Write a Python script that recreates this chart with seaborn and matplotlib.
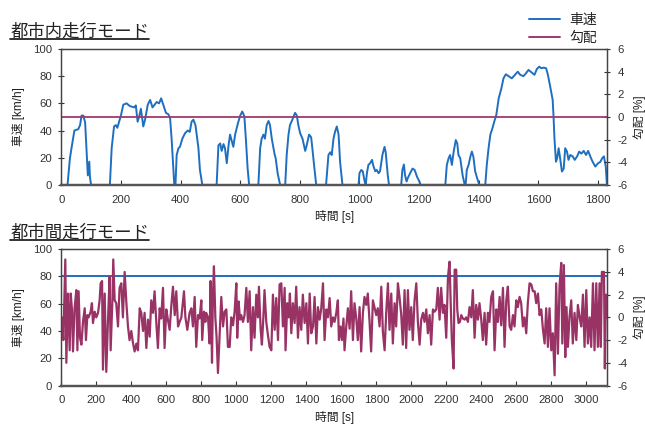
import matplotlib
matplotlib.use('Agg')
import matplotlib.pyplot as plt
from matplotlib.lines import Line2D
import numpy as np
import pandas as pd
import seaborn as sns

# urban mode: vehicle speed [km/h] vs time [s], grade flat at 0 %
urban_t = [0, 21, 29, 35, 44, 57, 63, 68, 74, 80, 85, 89, 94, 96, 100, 163, 169, 177, 183, 188,
           200, 208, 219, 230, 245, 250, 256, 261, 267, 275, 281, 290, 298, 306, 313, 320, 328, 335,
           342, 351, 359, 365, 370, 376, 379, 383, 387, 393, 398, 406, 415, 424, 431, 437, 443, 450,
           460, 465, 473, 521, 527, 533, 538, 544, 549, 555, 561, 566, 572, 577, 583, 592, 600, 607,
           614, 619, 625, 630, 661, 667, 672, 678, 683, 689, 695, 700, 706, 715, 719, 726, 734, 751,
           756, 762, 767, 775, 784, 790, 795, 801, 809, 818, 823, 831, 838, 842, 849, 855, 888, 896,
           902, 907, 913, 918, 924, 930, 935, 943, 997, 1000, 1006, 1011, 1017, 1021, 1025, 1030,
           1036, 1042, 1047, 1053, 1058, 1064, 1069, 1077, 1084, 1088, 1095, 1099, 1140, 1144, 1149,
           1153, 1158, 1162, 1170, 1178, 1185, 1193, 1201, 1205, 1288, 1293, 1299, 1304, 1310, 1316,
           1323, 1328, 1332, 1338, 1346, 1353, 1356, 1360, 1366, 1372, 1377, 1382, 1388, 1396, 1402,
           1422, 1427, 1433, 1439, 1446, 1452, 1459, 1467, 1476, 1483, 1491, 1500, 1511, 1520, 1531,
           1539, 1550, 1558, 1567, 1576, 1587, 1595, 1603, 1610, 1618, 1626, 1632, 1640, 1648, 1651,
           1654, 1659, 1663, 1668, 1673, 1679, 1685, 1690, 1696, 1701, 1707, 1715, 1722, 1730, 1737,
           1744, 1752, 1760, 1767, 1774, 1782, 1791, 1800, 1808, 1814, 1820, 1826, 1830]
urban_speed = [0, 0, 19.6, 28, 40, 41, 44, 51, 51, 46, 24.5, 7, 17, 6, 0, 0, 27, 43, 44, 42,
               51, 59, 60, 58, 57, 58.5, 46.5, 50, 56, 43, 48, 59, 62.5, 57, 59, 61, 60, 63.7,
               59, 53, 52, 49, 34, 12, 0, 0, 22, 27, 28, 34, 38, 40, 39, 46.5, 48, 44,
               27, 11, 0, 0, 29, 30.5, 25, 30, 27, 16, 29, 37, 32, 28, 37, 45, 51, 54,
               50.5, 34, 12, 0, 0, 27, 34, 37, 34, 44, 47, 44, 34, 23, 19.6, 8, 0, 0,
               22, 37, 44, 48, 53, 51, 44, 38, 34, 25, 29, 37, 35, 27, 12, 0, 0, 22,
               24, 22, 34, 39, 43, 37, 17, 0, 0, 8.6, 11, 10, 3, 0, 8.6, 14.7,
               16, 18.4, 13.7, 10, 11, 8.6, 10, 22, 28, 24, 7, 0, 0, 11, 15,
               7, 2.5, 5, 8.6, 12, 11, 6, 2.5, 0, 0, 14.7, 19.6, 22, 14.7, 24.5,
               33, 30.5, 22, 19.6, 7, 0, 0, 11, 14.7, 20.8, 24.5, 20.8, 10, 4, 0,
               0, 14.7, 27, 37, 41.7, 46.5, 51.5, 63.7, 71, 78.4, 81.4, 80, 78.4, 80.6, 83.3,
               81, 80, 82, 84.6, 83, 81, 85.3, 87, 85.8, 86.3, 85.8, 81, 72, 62.5, 50,
               34, 17, 19.6, 27, 19.6, 9.8, 12, 27, 24.5, 18.4, 22, 21, 18.4, 21, 24.5,
               23, 25, 22, 25, 21, 17, 13.5, 15.9, 17, 19.6, 21, 13.5, 0]
urban_grade_t = [0, 1830]
urban_grade = [0, 0]

# interurban mode: constant 80 km/h, grade [%] varies
inter_speed_t = [0, 3117]
inter_speed = [80, 80]
inter_t = [0, 4, 12, 23, 29, 38, 48, 54, 61, 67, 76, 86, 92, 99, 107, 115, 124, 134, 141, 149,
           156, 168, 175, 181, 191, 200, 210, 219, 225, 233, 238, 248, 257, 267, 276, 282, 292,
           297, 305, 314, 324, 333, 343, 352, 362, 372, 381, 390, 400, 410, 419, 429, 438, 448,
           457, 467, 476, 486, 495, 505, 514, 524, 533, 543, 552, 562, 571, 581, 590, 600, 609,
           619, 629, 638, 648, 657, 667, 676, 686, 701, 709, 720, 733, 743, 752, 762, 771,
           781, 790, 800, 805, 815, 823, 828, 838, 847, 853, 861, 866, 872, 880, 887, 895, 904,
           914, 924, 933, 943, 952, 962, 971, 981, 990, 1000, 1005, 1013, 1021, 1028, 1038, 1047,
           1057, 1066, 1076, 1085, 1095, 1104, 1114, 1123, 1129, 1139, 1146, 1154, 1161, 1171,
           1180, 1190, 1200, 1209, 1219, 1228, 1238, 1247, 1257, 1266, 1276, 1281, 1291, 1299,
           1306, 1314, 1323, 1333, 1342, 1352, 1361, 1371, 1380, 1390, 1400, 1409, 1419, 1428,
           1438, 1447, 1457, 1466, 1476, 1485, 1495, 1504, 1514, 1523, 1533, 1542, 1552, 1561, 1571,
           1580, 1586, 1595, 1603, 1612, 1618, 1628, 1637, 1647, 1656, 1666, 1675, 1685, 1694,
           1704, 1713, 1723, 1732, 1742, 1751, 1761, 1770, 1780, 1789, 1799, 1808, 1818, 1828,
           1837, 1847, 1856, 1866, 1875, 1885, 1894, 1904, 1913, 1923, 1932, 1942, 1951, 1961,
           1970, 1980, 1989, 1999, 2008, 2018, 2028, 2037, 2047, 2056, 2066, 2075, 2085, 2094,
           2104, 2113, 2123, 2132, 2142, 2151, 2161, 2170, 2180, 2189, 2199, 2209, 2218, 2224,
           2231, 2241, 2247, 2256, 2262, 2269, 2277, 2285, 2294, 2304, 2313, 2323, 2332, 2342,
           2351, 2361, 2370,
           2380, 2389, 2399, 2408, 2418, 2427, 2437, 2446, 2456, 2466, 2475, 2485, 2494, 2504,
           2513, 2523, 2532, 2542, 2551, 2561, 2570, 2580, 2589, 2599, 2608, 2618, 2627, 2637,
           2646, 2656, 2665, 2675, 2685, 2694, 2704, 2713, 2723, 2732, 2742, 2751, 2761, 2770,
           2780, 2789, 2799, 2808, 2818, 2827, 2837, 2846, 2856, 2862, 2871, 2879, 2886, 2894,
           2903, 2913, 2922, 2932, 2942, 2951, 2961, 2970, 2980, 2989, 2999, 3008, 3018, 3027,
           3037, 3046, 3056, 3065, 3075, 3082, 3088, 3100, 3105, 3111, 3117]
inter_grade = [0.0, 0.0, -2.0, 5.1, -4.0, 2.1, -2.9, 2.1, 0.7, -3.0, 0.8, 2.4, -2.9, 2.3, -1.8, -2.4,
               -0.4, 0.8, -2.0, 0.2, 0.0, 0.5, 1.25, -0.5, 0.5, 0.0, 0.4, 1.5, 3.0, 3.2, -4.6, 2.1,
               -4.8, -0.2, 3.6, -2.9, 1.5, 5.1, 1.5, 1.25, -0.8, 2.6, 3.0, 0.0, 4.0, 1.25, -0.8,
               -2.0, -1.2, -2.3, -3.0, -2.3, -2.9, 0.8, 0.4, -1.2, 0.4, -2.7, -0.2, -1.7, 1.5, 0.4,
               2.3, -0.5, -2.7, 0.8, -0.1, 2.6, -2.7, 0.7, -0.2, -1.1, 1.1, 2.7, 0.2, 2.3, -0.8,
               -0.4, 0.0, 2.3, 0.0, -1.1, 0.4, 0.8, -0.8, 1.8, -2.6,
               0.2, -0.1, 1.5, -2.0, 0.5, -0.4, 0.4, 0.0, -2.3, 3.2, -4.0, 1.8, 4.5, 0.0, -1.7,
               -4.9, -1.7, 1.8, -0.8, 0.5, 0.7, -2.6, -2.6, 0.0, -0.7, 0.5, 3.0, -1.8, 1.4, -0.2,
               0.2, -0.4, 0.2, 2.6, -0.4, 2.3, -2.9, 0.9, -1.8, 2.0, 0.0, 2.7, -1.1, -2.4, -0.1,
               2.4, -0.4, -1.5, -2.6, -2.9, 2.0, -1.1, 1.7, -2.0, 2.9, 3.0, -0.8, 2.6, -2.9, 1.25,
               0.0, 2.1, -1.4, 1.25, -0.5, 2.7, -1.8, 0.9, -1.1, 2.0, -0.5, 1.25, -2.3, 2.1, -1.4,
               -0.8, 1.8, -2.3, 0.9, -0.2, 0.8, 3.0, -2.0, 0.7, 0.0, 1.7, -0.8, 0.0, -0.4, 0.4,
               1.5, -2.0, -0.8, -2.0, -0.1, -2.9, -0.8, 0.8, -1.0, 2.3, -2.0, 1.25, -0.1, -2.0,
               0.9, -3.0, 0.4, 1.8, 1.1, 2.1, -0.4, -3.0, 1.5, 0.9, 0.2, 0.8, -0.8, 2.7,
               -1.25, -2.9, 0.4, 3.0, -1.1, 2.1, -2.3, 1.25, -0.8, 3.0, 1.8, 0.2, -2.4, 2.4,
               -2.7, 2.4, -1.1, 0.9, -2.0, 1.5, 3.0, -0.4, -2.4, -0.2, 0.4, -0.4, 0.7, -1.4,
               0.2, -2.4, 0.7, 0.5, 0.7, 2.6, -0.2, 2.6, 0.4, 1.1, -1.8, 3.6, 4.9, 1.5,
               -2.0, -4.5, 4.2, 4.2, 0.7, -0.5, -0.4, 0.2, -0.1, -0.2, 0.0, -0.4, 0.9, 0.0,
               2.4, -1.8, 1.1,
               -0.2, 1.25, -0.2, -2.0, 0.4, -2.4, 0.4, -0.4, 1.8, 2.3, -2.9, 0.7, -0.4, 1.8,
               -0.7, 2.6, -2.6, 1.5, 2.7, -0.8, -1.1, 0.2, -0.8, 1.5, 0.9, 1.8, 1.25, -0.8,
               0.0, -1.4, 1.25, 3.0, 2.9, 2.3, 2.3, 1.25, 2.1, 0.2, 0.7, -1.0, -2.3, 0.8,
               -2.6, 0.8, -2.9, -1.4, -5.1, 3.0, -3.2, 2.7, 4.8, -2.3, 4.6, -3.5, 0.9, -2.6,
               0.0, 1.5, -2.3, 0.4, -2.0, 1.1, 0.0, -0.8, 2.0, -2.6, 2.4, -2.3, 0.0, -2.6,
               3.0, -2.9, 3.0, -2.6, 3.0, -2.6, 4.0, 4.0, -4.5, 2.0, 0.0]

BLUE = '#1f6fc0'
PLUM = '#a0386e'
PLUM2 = '#993366'

sns.set_theme(style='white')
plt.rcParams['font.family'] = ['Liberation Sans', 'Noto Sans CJK JP']
plt.rcParams['axes.unicode_minus'] = False

fig = plt.figure(figsize=(6.45, 4.26), dpi=100)
ax1 = fig.add_axes([0.095, 0.566, 0.846, 0.319])
ax3 = fig.add_axes([0.095, 0.095, 0.846, 0.320])


def style_axes(ax, ax2, xmax, xticks):
    ax.set_xlim(0, xmax)
    ax.set_ylim(0, 100)
    ax.set_xticks(xticks)
    ax.set_yticks(range(0, 101, 20))
    ax2.set_ylim(-6, 6)
    ax2.set_yticks(range(-6, 7, 2))
    ax.set_xlabel('時間 [s]', fontsize=8.5, color='#222222', labelpad=4)
    ax.set_ylabel('車速 [km/h]', fontsize=8.5, color='#222222', labelpad=6)
    ax2.set_ylabel('勾配 [%]', fontsize=8.5, color='#222222', rotation=90, labelpad=4)
    ax.tick_params(axis='x', direction='in', length=3.5, width=0.8, labelsize=8.2,
                   colors='#333333', pad=7, bottom=True)
    ax.tick_params(axis='y', direction='inout', length=5, width=0.8, labelsize=8.2,
                   colors='#333333', pad=4, left=True)
    ax2.tick_params(axis='y', direction='inout', length=5, width=0.8, labelsize=8.2,
                    colors='#333333', pad=5, right=True)
    for a in (ax, ax2):
        for s in a.spines.values():
            s.set_color('#444444')
            s.set_linewidth(0.9)
        a.spines['bottom'].set_linewidth(1.6)
        a.spines['bottom'].set_color('#555555')


# --- top: urban mode
df_u = pd.DataFrame({'t': urban_t, 'v': urban_speed})
sns.lineplot(data=df_u, x='t', y='v', ax=ax1, color=BLUE, linewidth=1.4)
ax2 = ax1.twinx()
sns.lineplot(x=urban_grade_t, y=urban_grade, ax=ax2, color=PLUM, linewidth=1.3)
style_axes(ax1, ax2, 1830, range(0, 1801, 200))

# --- bottom: interurban mode
df_i = pd.DataFrame({'t': inter_t, 'g': inter_grade})
sns.lineplot(x=inter_speed_t, y=inter_speed, ax=ax3, color=BLUE, linewidth=1.4)
ax4 = ax3.twinx()
sns.lineplot(data=df_i, x='t', y='g', ax=ax4, color=PLUM2, linewidth=1.6)
style_axes(ax3, ax4, 3117, range(0, 3001, 200))

# legend
handles = [Line2D([], [], color=BLUE, linewidth=1.4), Line2D([], [], color=PLUM, linewidth=1.4)]
fig.legend(handles, ['車速', '勾配'], loc='upper right', bbox_to_anchor=(0.945, 1.0),
           frameon=False, fontsize=10, handlelength=2.2, handletextpad=0.7,
           labelspacing=0.35)

# underlined titles
t1 = fig.text(0.016, 0.906, '都市内走行モード', fontsize=12.5, color='#222222', va='bottom')
t2 = fig.text(0.016, 0.434, '都市間走行モード', fontsize=12.5, color='#222222', va='bottom')
fig.canvas.draw()
r = fig.canvas.get_renderer()
for t in (t1, t2):
    bb = t.get_window_extent(r).transformed(fig.transFigure.inverted())
    fig.add_artist(Line2D([bb.x0, bb.x1], [bb.y0 + 0.002, bb.y0 + 0.002],
                          transform=fig.transFigure, color='#111111', linewidth=1.2))

fig.savefig('out.png', dpi=100)
